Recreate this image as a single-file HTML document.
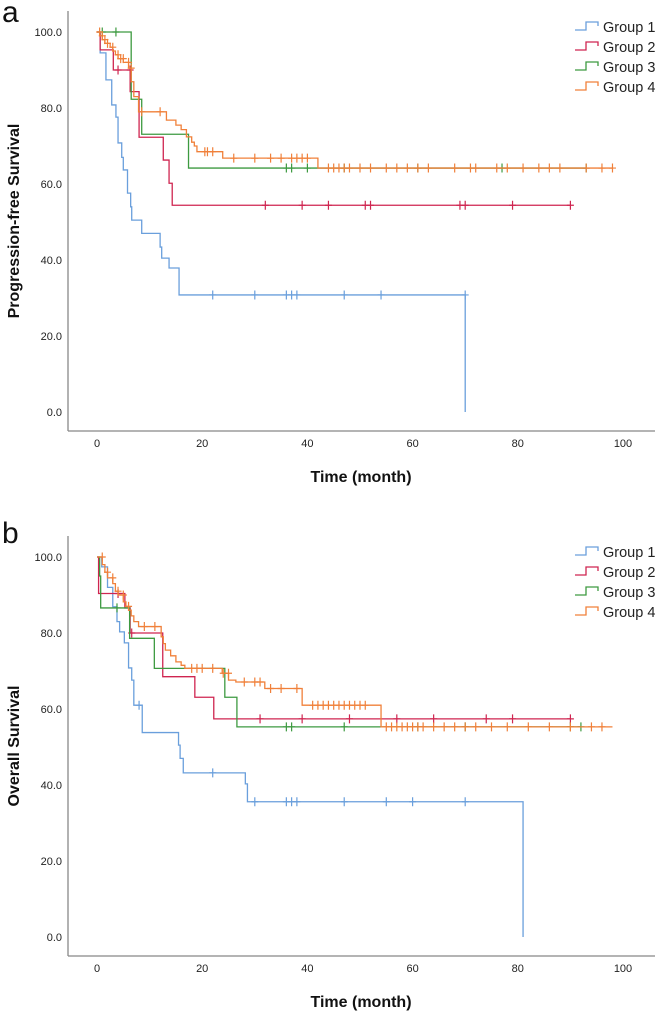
<!DOCTYPE html>
<html><head><meta charset="utf-8">
<style>
html,body{margin:0;padding:0;background:#fff;}
svg{display:block;font-family:"Liberation Sans",Arial,sans-serif;}
</style></head>
<body>
<svg id="chart" width="657" height="1011" viewBox="0 0 657 1011" xmlns="http://www.w3.org/2000/svg"></svg>
<script>
const xTicks = [0,20,40,60,80,100];
const yTicks = [0,20,40,60,80,100];
const yTickLabels = ["0.0","20.0","40.0","60.0","80.0","100.0"];
const groupNames = ["Group 1","Group 2","Group 3","Group 4"];
const colors = ["#6a9fdc","#cf2550","#3d9a40","#f0803a"];

// Panel a (PFS): event times and survival after each step
const a1T=[0,0.6,1.7,2.8,3.6,4.0,4.7,5.0,5.8,6.4,6.6,8.5,12.0,12.3,13.7,15.6,70];
const a1S=[100,94.5,87.4,80.8,77.6,70.8,67,63.7,57.6,54,50.5,47,43.4,40.5,37.9,30.8,0];
const a1C=[22,30,36,37,38,47,54,70];
const a1End=70;
const a2T=[0,0.6,3.1,6.3,8.0,12.6,13.7,14.3];
const a2S=[100,95.3,90,84.3,72.3,66.3,60.2,54.4];
const a2C=[4,6.3,32,39,44,51,52,69,70,79,90];
const a2End=90;
const a3T=[0,6.5,8.5,17.4];
const a3S=[100,82.3,73.1,64.2];
const a3C=[1,3.6,36,37,40,47,61,77,93];
const a3End=93;
const a4T=[0,0.5,1,1.5,2.5,3,3.5,4,5,6,6.5,7,7.9,13.2,15,16,17,18,18.5,19,23.9,42];
const a4S=[100,99,98,97,96,95,94,93,92,90.5,86.9,83,79,76.8,75.5,74.3,72.4,71,70,68.5,66.8,64.2];
const a4C=[0.5,1,1.5,2,3,4,4.5,5,6,6.5,8.5,12,20.5,21,22,26,30,33,35,37,38,39,40,44,45,46,47,48,50,52,55,57,59,61,63,68,71,72,76,78,81,84,86,88,93,96,98];
const a4End=98;

// Panel b (OS)
const b1T=[0,0.9,2.0,3.0,3.8,4.3,5.2,6.0,6.6,7.0,8.6,15.5,15.8,16.4,28.2,28.6,81];
const b1S=[100,97.4,92,86.9,83,80.3,77.4,70.8,67.6,61,53.8,50.5,47,43.2,40.3,35.6,0];
const b1C=[8,22,30,36,37,38,47,55,60,70];
const b1End=81;
const b2T=[0,0.3,5.3,6.3,12.5,18.6,22.2];
const b2S=[100,90.4,86.6,80,68.5,63.1,57.4];
const b2C=[4,6.6,31,39,48,57,64,74,79,90];
const b2End=90;
const b3T=[0,0.5,0.7,6.2,10.9,24.3,26.6];
const b3S=[100,95,86.6,78.6,70.7,63.1,55.3];
const b3C=[3.8,36,37,47,61,70,90,92];
const b3End=92;
const b4T=[0,1,1.5,2,3,3.5,4,5,5.5,6,6.5,7,7.9,12.2,12.6,13,14,15,16,16.7,23.8,25,26.4,31.9,39,54];
const b4S=[100,98,96,94.5,93,91,90,88.2,87,86,84.5,83,81.7,79,77.2,75.5,74,72.4,71.5,70.7,69.4,67.6,67.1,65.4,61,55.3];
const b4C=[1,2,3,4,5,6,9,11,18,19,20,22,24,25,28,30,31,33,35,38,41,42,43,44,45,46,47,48,49,50,51,55,56,57,58,59,60,61,62,64,66,68,70,72,75,78,82,86,90,94,96];
const b4End=98;

const NS="http://www.w3.org/2000/svg";
const svg=document.getElementById('chart');
function mk(tag,attrs,parent){const e=document.createElementNS(NS,tag);for(const k in attrs)e.setAttribute(k,attrs[k]);(parent||svg).appendChild(e);return e;}
const X0=97,XS=5.26;
function xs(t){return X0+XS*t;}
function ysF(off){return v=>412+off-3.8*v;}

function survAt(T,S,t){let s=S[0];for(let i=0;i<T.length;i++){if(T[i]<t)s=S[i];}return s;}

function drawPanel(off,label,ytitle,series,pname){
  const g=mk('g',{});
  
  
  const ys=ysF(off);
  const pl=mk('text',{x:2,y:22+off+ (off?-4:0),'font-size':30,fill:'#111'},g);
  pl.textContent=label;
  
  
  const ya=mk('line',{x1:68,y1:11+off,x2:68,y2:431+off,stroke:'#888','stroke-width':1.3},g);
  
  
  const xa=mk('line',{x1:68,y1:431+off,x2:655,y2:431+off,stroke:'#888','stroke-width':1.3},g);
  
  
  yTicks.forEach((v,i)=>{
    const t=mk('text',{x:62,y:ys(v)+4,'font-size':11,'text-anchor':'end',fill:'#222'},g);
    t.textContent=yTickLabels[i];
    
    
  });
  xTicks.forEach(v=>{
    const t=mk('text',{x:xs(v),y:447+off,'font-size':11,'text-anchor':'middle',fill:'#222'},g);
    t.textContent=String(v);
    
    
  });
  const xt=mk('text',{x:361,y:482+off,'font-size':16,'font-weight':'bold','text-anchor':'middle',fill:'#111'},g);
  xt.textContent='Time (month)';
  
  
  const cy=221+off;
  const yt=mk('text',{x:19,y:cy,'font-size':16,'font-weight':'bold','text-anchor':'middle',fill:'#111',transform:`rotate(-90 19 ${cy})`},g);
  yt.textContent=ytitle;
  
  

  series.forEach((s,k)=>{
    const [T,S,C,End]=s;
    let d=`M${xs(T[0])},${ys(S[0])}`;
    for(let i=1;i<T.length;i++){d+=` H${xs(T[i])} V${ys(S[i])}`;}
    if(T[T.length-1]<End)d+=` H${xs(End)}`;
    const p=mk('path',{d:d,fill:'none',stroke:colors[k],'stroke-width':1.3},g);
    
    
    C.forEach(t=>{
      const x=xs(t),y=ys(survAt(T,S,t));
      const c=mk('path',{d:`M${x},${y-4.5} V${y+4.5} M${x-3.5},${y} H${x+3.5}`,stroke:colors[k],'stroke-width':1.2,fill:'none'},g);
      
      
    });
  });
  groupNames.forEach((n,k)=>{
    const y=27+20*k+off;
    const lg=mk('g',{},g);
    
    
    mk('path',{d:`M575,${y+3} H586 V${y-5} H598 V${y-1}`,fill:'none',stroke:colors[k],'stroke-width':1.3},lg);
    const t=mk('text',{x:603,y:y+5,'font-size':14.5,fill:'#222'},lg);
    t.textContent=n;
  });
}
drawPanel(0,'a','Progression-free Survival',[[a1T,a1S,a1C,a1End],[a2T,a2S,a2C,a2End],[a3T,a3S,a3C,a3End],[a4T,a4S,a4C,a4End]],'panel-a');
drawPanel(525,'b','Overall Survival',[[b1T,b1S,b1C,b1End],[b2T,b2S,b2C,b2End],[b3T,b3S,b3C,b3End],[b4T,b4S,b4C,b4End]],'panel-b');
</script>
</body></html>
